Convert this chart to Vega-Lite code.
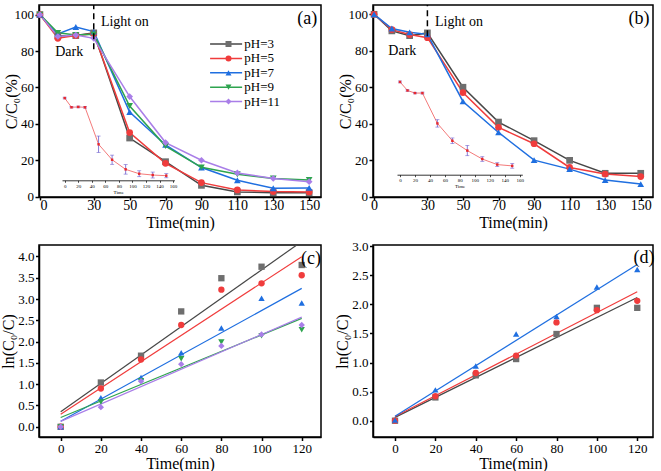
{
  "$schema": "https://vega.github.io/schema/vega-lite/v6.json",
  "padding": {"left": 0, "top": 3, "right": 0, "bottom": 0},
  "config": {
    "font": "Liberation Serif",
    "view": {"stroke": "black", "strokeWidth": 1.5},
    "axis": {"grid": false, "domainColor": "black", "domainWidth": 1.5, "tickColor": "black", "tickWidth": 1.5, "labelColor": "black", "titleColor": "black", "labelFont": "Liberation Serif", "titleFont": "Liberation Serif", "labelFontSize": 14, "titleFontSize": 17, "titleFontWeight": "normal", "labelPadding": 2, "tickSize": 4},
    "legend": {"labelFont": "Liberation Serif", "labelFontSize": 13, "labelColor": "black", "padding": 0}
  },
  "datasets": {
    "a": [
      {"t":0,"v":100,"ph":"pH=3"},{"t":10,"v":88.3,"ph":"pH=3"},{"t":20,"v":88.5,"ph":"pH=3"},{"t":30,"v":90,"ph":"pH=3"},{"t":50,"v":32.2,"ph":"pH=3"},{"t":70,"v":19.2,"ph":"pH=3"},{"t":90,"v":6.2,"ph":"pH=3"},{"t":110,"v":2.6,"ph":"pH=3"},{"t":130,"v":2.2,"ph":"pH=3"},{"t":150,"v":2.2,"ph":"pH=3"},
      {"t":0,"v":100,"ph":"pH=5"},{"t":10,"v":87,"ph":"pH=5"},{"t":20,"v":88.6,"ph":"pH=5"},{"t":30,"v":89.5,"ph":"pH=5"},{"t":50,"v":35.2,"ph":"pH=5"},{"t":70,"v":18.3,"ph":"pH=5"},{"t":90,"v":7.7,"ph":"pH=5"},{"t":110,"v":3.7,"ph":"pH=5"},{"t":130,"v":2.8,"ph":"pH=5"},{"t":150,"v":2.6,"ph":"pH=5"},
      {"t":0,"v":100,"ph":"pH=7"},{"t":10,"v":89.4,"ph":"pH=7"},{"t":20,"v":93.2,"ph":"pH=7"},{"t":30,"v":90.7,"ph":"pH=7"},{"t":50,"v":46.5,"ph":"pH=7"},{"t":70,"v":28.4,"ph":"pH=7"},{"t":90,"v":16,"ph":"pH=7"},{"t":110,"v":9,"ph":"pH=7"},{"t":130,"v":4.6,"ph":"pH=7"},{"t":150,"v":4.8,"ph":"pH=7"},
      {"t":0,"v":100,"ph":"pH=9"},{"t":10,"v":90,"ph":"pH=9"},{"t":20,"v":88.8,"ph":"pH=9"},{"t":30,"v":89.2,"ph":"pH=9"},{"t":50,"v":49.8,"ph":"pH=9"},{"t":70,"v":27.8,"ph":"pH=9"},{"t":90,"v":16.1,"ph":"pH=9"},{"t":110,"v":12.3,"ph":"pH=9"},{"t":130,"v":10,"ph":"pH=9"},{"t":150,"v":9.2,"ph":"pH=9"},
      {"t":0,"v":100,"ph":"pH=11"},{"t":10,"v":88,"ph":"pH=11"},{"t":20,"v":88.8,"ph":"pH=11"},{"t":30,"v":87,"ph":"pH=11"},{"t":50,"v":55,"ph":"pH=11"},{"t":70,"v":29.7,"ph":"pH=11"},{"t":90,"v":20,"ph":"pH=11"},{"t":110,"v":13,"ph":"pH=11"},{"t":130,"v":10,"ph":"pH=11"},{"t":150,"v":8.2,"ph":"pH=11"}
    ],
    "ia": [
      {"t":0,"v":100,"lo":99,"hi":101},{"t":10,"v":88.8,"lo":88,"hi":89.6},{"t":20,"v":89.2,"lo":88.2,"hi":90.2},{"t":30,"v":88.8,"lo":87.8,"hi":89.8},{"t":50,"v":43.8,"lo":33.8,"hi":53.8},{"t":70,"v":25,"lo":19.4,"hi":30.6},{"t":90,"v":13.3,"lo":7.5,"hi":19.1},{"t":110,"v":8,"lo":4.4,"hi":11.6},{"t":130,"v":6.4,"lo":2.8,"hi":10},{"t":150,"v":5.6,"lo":3.1,"hi":8.1}
    ],
    "b": [
      {"t":0,"v":100,"ph":"pH=3"},{"t":10,"v":90.9,"ph":"pH=3"},{"t":20,"v":88.3,"ph":"pH=3"},{"t":30,"v":89.8,"ph":"pH=3"},{"t":50,"v":60,"ph":"pH=3"},{"t":70,"v":40.9,"ph":"pH=3"},{"t":90,"v":30.7,"ph":"pH=3"},{"t":110,"v":19.9,"ph":"pH=3"},{"t":130,"v":12.8,"ph":"pH=3"},{"t":150,"v":12.8,"ph":"pH=3"},
      {"t":0,"v":100,"ph":"pH=5"},{"t":10,"v":91.6,"ph":"pH=5"},{"t":20,"v":88.9,"ph":"pH=5"},{"t":30,"v":87.2,"ph":"pH=5"},{"t":50,"v":57.1,"ph":"pH=5"},{"t":70,"v":38,"ph":"pH=5"},{"t":90,"v":29,"ph":"pH=5"},{"t":110,"v":16,"ph":"pH=5"},{"t":130,"v":12.4,"ph":"pH=5"},{"t":150,"v":11,"ph":"pH=5"},
      {"t":0,"v":100,"ph":"pH=7"},{"t":10,"v":92.2,"ph":"pH=7"},{"t":20,"v":90.1,"ph":"pH=7"},{"t":30,"v":89,"ph":"pH=7"},{"t":50,"v":52.2,"ph":"pH=7"},{"t":70,"v":35.2,"ph":"pH=7"},{"t":90,"v":20,"ph":"pH=7"},{"t":110,"v":15.1,"ph":"pH=7"},{"t":130,"v":9.1,"ph":"pH=7"},{"t":150,"v":6.9,"ph":"pH=7"}
    ],
    "ib": [
      {"t":0,"v":100,"lo":99,"hi":101},{"t":10,"v":90.8,"lo":90,"hi":91.6},{"t":20,"v":88,"lo":87.2,"hi":88.8},{"t":30,"v":88,"lo":87,"hi":89},{"t":50,"v":55.3,"lo":51.3,"hi":59.3},{"t":70,"v":36.6,"lo":33.6,"hi":39.6},{"t":90,"v":26,"lo":20.5,"hi":31.5},{"t":110,"v":16.9,"lo":14.4,"hi":19.4},{"t":130,"v":10.9,"lo":8.9,"hi":12.9},{"t":150,"v":9.5,"lo":7,"hi":12}
    ],
    "c": [
      {"t":0,"v":0,"ph":"pH=3"},{"t":20,"v":1.04,"ph":"pH=3"},{"t":40,"v":1.67,"ph":"pH=3"},{"t":60,"v":2.71,"ph":"pH=3"},{"t":80,"v":3.49,"ph":"pH=3"},{"t":100,"v":3.76,"ph":"pH=3"},{"t":120,"v":3.8,"ph":"pH=3"},
      {"t":0,"v":0,"ph":"pH=5"},{"t":20,"v":0.9,"ph":"pH=5"},{"t":40,"v":1.58,"ph":"pH=5"},{"t":60,"v":2.39,"ph":"pH=5"},{"t":80,"v":3.22,"ph":"pH=5"},{"t":100,"v":3.37,"ph":"pH=5"},{"t":120,"v":3.56,"ph":"pH=5"},
      {"t":0,"v":0,"ph":"pH=7"},{"t":20,"v":0.68,"ph":"pH=7"},{"t":40,"v":1.16,"ph":"pH=7"},{"t":60,"v":1.74,"ph":"pH=7"},{"t":80,"v":2.32,"ph":"pH=7"},{"t":100,"v":3.02,"ph":"pH=7"},{"t":120,"v":2.91,"ph":"pH=7"},
      {"t":0,"v":0,"ph":"pH=9"},{"t":20,"v":0.58,"ph":"pH=9"},{"t":40,"v":1.08,"ph":"pH=9"},{"t":60,"v":1.6,"ph":"pH=9"},{"t":80,"v":1.99,"ph":"pH=9"},{"t":100,"v":2.14,"ph":"pH=9"},{"t":120,"v":2.28,"ph":"pH=9"},
      {"t":0,"v":0,"ph":"pH=11"},{"t":20,"v":0.46,"ph":"pH=11"},{"t":40,"v":1.07,"ph":"pH=11"},{"t":60,"v":1.47,"ph":"pH=11"},{"t":80,"v":1.9,"ph":"pH=11"},{"t":100,"v":2.17,"ph":"pH=11"},{"t":120,"v":2.39,"ph":"pH=11"}
    ],
    "d": [
      {"t":0,"v":0,"ph":"pH=3"},{"t":20,"v":0.4,"ph":"pH=3"},{"t":40,"v":0.78,"ph":"pH=3"},{"t":60,"v":1.06,"ph":"pH=3"},{"t":80,"v":1.49,"ph":"pH=3"},{"t":100,"v":1.94,"ph":"pH=3"},{"t":120,"v":1.94,"ph":"pH=3"},
      {"t":0,"v":0,"ph":"pH=5"},{"t":20,"v":0.42,"ph":"pH=5"},{"t":40,"v":0.82,"ph":"pH=5"},{"t":60,"v":1.12,"ph":"pH=5"},{"t":80,"v":1.69,"ph":"pH=5"},{"t":100,"v":1.9,"ph":"pH=5"},{"t":120,"v":2.06,"ph":"pH=5"},
      {"t":0,"v":0.01,"ph":"pH=7"},{"t":20,"v":0.53,"ph":"pH=7"},{"t":40,"v":0.94,"ph":"pH=7"},{"t":60,"v":1.49,"ph":"pH=7"},{"t":80,"v":1.79,"ph":"pH=7"},{"t":100,"v":2.3,"ph":"pH=7"},{"t":120,"v":2.6,"ph":"pH=7"}
    ]
  },
  "columns": 2,
  "spacing": {"row": 48, "column": 52},
  "bounds": "flush",
  "concat": [
    {
      "width": 282, "height": 192,
      "resolve": {"scale": {"x": "independent", "y": "independent"}},
      "layer": [
        {
          "data": {"name": "a"},
          "encoding": {
            "x": {"field": "t", "type": "quantitative", "scale": {"domain": [-0.5, 156.6], "nice": false, "zero": false}, "axis": {"values": [0,30,50,70,90,110,130,150], "title": "Time(min)", "tickSize": 3, "labelPadding": -2, "titleFontSize": 16, "titlePadding": 2.5}},
            "y": {"field": "v", "type": "quantitative", "scale": {"domain": [-0.2, 105.3], "nice": false, "zero": false}, "axis": {"values": [0,20,40,60,80,100], "title": "C/C₀(%)", "labelFontSize": 13, "labelPadding": 1.5, "titleFontSize": 16, "titlePadding": -5}}
          },
          "layer": [
            {"mark": {"type": "line", "strokeWidth": 1.5},
             "encoding": {"stroke": {"field": "ph", "type": "nominal", "sort": null,
               "scale": {"range": ["#474747","#f03c3c","#1f6fe0","#2ea44f","#a97ee8"]},
               "legend": {"title": null, "orient": "none", "legendX": 180.6, "legendY": 32.5, "symbolType": "M-3,0H3", "symbolSize": 114, "symbolStrokeWidth": 1.5, "labelOffset": 11.7, "rowPadding": 0.4}}}},
            {"mark": {"type": "point", "filled": true, "size": 45, "opacity": 1},
             "encoding": {
               "color": {"field": "ph", "type": "nominal", "scale": {"domain": ["pH=3","pH=5","pH=7","pH=9","pH=11"], "range": ["#6e6e6e","#f03c3c","#1f6fe0","#2ea44f","#a97ee8"]},
                 "legend": {"title": null, "orient": "none", "legendX": 183, "legendY": 32.5, "symbolSize": 36, "labelExpr": "''", "rowPadding": 0.4}},
               "shape": {"field": "ph", "type": "nominal", "scale": {"domain": ["pH=3","pH=5","pH=7","pH=9","pH=11"], "range": ["square","circle","triangle-up","triangle-down","diamond"]},
                 "legend": {"title": null, "orient": "none", "legendX": 183, "legendY": 32.5, "symbolSize": 36, "labelExpr": "''", "rowPadding": 0.4}}}},
            {"data": {"values": [{"t": 30, "v": 81, "v2": 105.3}]}, "mark": {"type": "rule", "strokeDash": [6, 4], "strokeWidth": 1.5, "color": "black"}, "encoding": {"y2": {"field": "v2"}}},
            {"data": {"values": [{"t": 16.3, "v": 79.7, "label": "Dark"}]},
             "mark": {"type": "text", "baseline": "middle", "align": "center", "fontSize": 14, "color": "black"}, "encoding": {"text": {"field": "label"}}},
            {"data": {"values": [{"t": 34, "v": 95.8, "label": "Light on"}]},
             "mark": {"type": "text", "baseline": "middle", "align": "left", "fontSize": 14, "color": "black"}, "encoding": {"text": {"field": "label"}}},
            {"data": {"values": [{"t": 149, "v": 97.4, "label": "(a)"}]},
             "mark": {"type": "text", "baseline": "middle", "align": "center", "fontSize": 18, "color": "black"}, "encoding": {"text": {"field": "label"}}}
          ]
        },
        {
          "data": {"name": "ia"},
          "encoding": {
            "x": {"field": "t", "type": "quantitative", "scale": {"domain": [-4, 162], "range": [23, 135.4], "nice": false, "zero": false},
                  "axis": {"orient": "bottom", "offset": -16.7, "values": [0,20,40,60,80,100,120,140,160], "title": "Time", "titleFontSize": 5, "labelFontSize": 5, "tickSize": 2, "tickWidth": 0.7, "domainWidth": 0.8, "labelPadding": 1, "titlePadding": 1, "labelOverlap": false}},
            "y": {"field": "v", "type": "quantitative", "scale": {"domain": [0, 102.5], "range": [175.3, 91], "nice": false, "zero": false},
                  "axis": {"orient": "left", "offset": -23, "values": [0,10,20,30,40,50,60,70,80,90,100], "title": "Mean value", "titleFontSize": 5, "labelFontSize": 5, "tickSize": 2, "tickWidth": 0.7, "domainWidth": 0.8, "labelPadding": 1, "titlePadding": 1.5, "labelOverlap": false}}
          },
          "layer": [
            {"mark": {"type": "line", "color": "#f26b6b", "strokeWidth": 0.9}},
            {"mark": {"type": "rule", "color": "#6a5acd", "strokeWidth": 0.8},
             "encoding": {"y": {"field": "lo", "type": "quantitative", "scale": {"domain": [0, 102.5], "range": [175.3, 91], "nice": false, "zero": false}, "axis": null}, "y2": {"field": "hi"}}},
            {"mark": {"type": "tick", "orient": "horizontal", "color": "#6a5acd", "size": 4, "thickness": 0.8},
             "encoding": {"y": {"field": "lo", "type": "quantitative", "scale": {"domain": [0, 102.5], "range": [175.3, 91], "nice": false, "zero": false}, "axis": null}}},
            {"mark": {"type": "tick", "orient": "horizontal", "color": "#6a5acd", "size": 4, "thickness": 0.8},
             "encoding": {"y": {"field": "hi", "type": "quantitative", "scale": {"domain": [0, 102.5], "range": [175.3, 91], "nice": false, "zero": false}, "axis": null}}},
            {"mark": {"type": "square", "color": "#e8282d", "size": 6, "opacity": 1}}
          ]
        }
      ]
    },
    {
      "width": 280, "height": 192,
      "resolve": {"scale": {"x": "independent", "y": "independent"}},
      "layer": [
        {
          "data": {"name": "b"},
          "encoding": {
            "x": {"field": "t", "type": "quantitative", "scale": {"domain": [-0.6, 156.9], "nice": false, "zero": false}, "axis": {"values": [0,30,50,70,90,110,130,150], "title": "Time(min)", "tickSize": 3, "labelPadding": -2, "titleFontSize": 16, "titlePadding": 2.5}},
            "y": {"field": "v", "type": "quantitative", "scale": {"domain": [-0.2, 105.1], "nice": false, "zero": false}, "axis": {"values": [0,20,40,60,80,100], "title": "C/C₀(%)", "labelFontSize": 13, "labelPadding": 1.5, "titleFontSize": 16, "titlePadding": -5}}
          },
          "layer": [
            {"mark": {"type": "line", "strokeWidth": 1.5},
             "encoding": {"stroke": {"field": "ph", "type": "nominal", "sort": null,
               "scale": {"range": ["#474747","#f03c3c","#1f6fe0"]},
               "legend": {"title": null, "orient": "none", "legendX": 180.6, "legendY": 5.5, "symbolType": "M-3,0H3", "symbolSize": 114, "symbolStrokeWidth": 1.5, "labelOffset": 11.7, "rowPadding": 1.8}}}},
            {"mark": {"type": "point", "filled": true, "size": 45, "opacity": 1},
             "encoding": {
               "color": {"field": "ph", "type": "nominal", "scale": {"domain": ["pH=3","pH=5","pH=7"], "range": ["#6e6e6e","#f03c3c","#1f6fe0"]},
                 "legend": {"title": null, "orient": "none", "legendX": 183, "legendY": 5.5, "symbolSize": 36, "labelExpr": "''", "rowPadding": 1.8}},
               "shape": {"field": "ph", "type": "nominal", "scale": {"domain": ["pH=3","pH=5","pH=7"], "range": ["square","circle","triangle-up"]},
                 "legend": {"title": null, "orient": "none", "legendX": 183, "legendY": 5.5, "symbolSize": 36, "labelExpr": "''", "rowPadding": 1.8}}}},
            {"data": {"values": [{"t": 30, "v": 88, "v2": 105.1}]}, "mark": {"type": "rule", "strokeDash": [6, 4], "strokeWidth": 1.5, "color": "black"}, "encoding": {"y2": {"field": "v2"}}},
            {"data": {"values": [{"t": 15.9, "v": 79.9, "label": "Dark"}]},
             "mark": {"type": "text", "baseline": "middle", "align": "center", "fontSize": 14, "color": "black"}, "encoding": {"text": {"field": "label"}}},
            {"data": {"values": [{"t": 34.3, "v": 96, "label": "Light on"}]},
             "mark": {"type": "text", "baseline": "middle", "align": "left", "fontSize": 14, "color": "black"}, "encoding": {"text": {"field": "label"}}},
            {"data": {"values": [{"t": 149, "v": 97.4, "label": "(b)"}]},
             "mark": {"type": "text", "baseline": "middle", "align": "center", "fontSize": 18, "color": "black"}, "encoding": {"text": {"field": "label"}}}
          ]
        },
        {
          "data": {"name": "ib"},
          "encoding": {
            "x": {"field": "t", "type": "quantitative", "scale": {"domain": [-4, 163.5], "range": [24, 149.3], "nice": false, "zero": false},
                  "axis": {"orient": "bottom", "offset": -22.3, "values": [0,20,40,60,80,100,120,140,160], "title": "Time", "titleFontSize": 5, "labelFontSize": 5, "tickSize": 2, "tickWidth": 0.7, "domainWidth": 0.8, "labelPadding": 1, "titlePadding": 1, "labelOverlap": false}},
            "y": {"field": "v", "type": "quantitative", "scale": {"domain": [0, 101], "range": [169.7, 76], "nice": false, "zero": false},
                  "axis": {"orient": "left", "offset": -24, "values": [0,10,20,30,40,50,60,70,80,90,100], "title": "Mean value", "titleFontSize": 5, "labelFontSize": 5, "tickSize": 2, "tickWidth": 0.7, "domainWidth": 0.8, "labelPadding": 1, "titlePadding": 1.5, "labelOverlap": false}}
          },
          "layer": [
            {"mark": {"type": "line", "color": "#f26b6b", "strokeWidth": 0.9}},
            {"mark": {"type": "rule", "color": "#6a5acd", "strokeWidth": 0.8},
             "encoding": {"y": {"field": "lo", "type": "quantitative", "scale": {"domain": [0, 101], "range": [169.7, 76], "nice": false, "zero": false}, "axis": null}, "y2": {"field": "hi"}}},
            {"mark": {"type": "tick", "orient": "horizontal", "color": "#6a5acd", "size": 4, "thickness": 0.8},
             "encoding": {"y": {"field": "lo", "type": "quantitative", "scale": {"domain": [0, 101], "range": [169.7, 76], "nice": false, "zero": false}, "axis": null}}},
            {"mark": {"type": "tick", "orient": "horizontal", "color": "#6a5acd", "size": 4, "thickness": 0.8},
             "encoding": {"y": {"field": "hi", "type": "quantitative", "scale": {"domain": [0, 101], "range": [169.7, 76], "nice": false, "zero": false}, "axis": null}}},
            {"mark": {"type": "square", "color": "#e8282d", "size": 6, "opacity": 1}}
          ]
        }
      ]
    },
    {
      "width": 282, "height": 192,
      "data": {"name": "c"},
      "encoding": {
        "x": {"field": "t", "type": "quantitative", "scale": {"domain": [-10.8, 129.6], "nice": false, "zero": false}, "axis": {"values": [0,20,40,60,80,100,120], "title": "Time(min)", "labelFontSize": 13, "tickSize": 3.5, "labelPadding": 1.5, "titleFontSize": 16, "titlePadding": 0}},
        "y": {"field": "v", "type": "quantitative", "scale": {"domain": [-0.24, 4.27], "nice": false, "zero": false}, "axis": {"values": [0,0.5,1,1.5,2,2.5,3,3.5,4], "format": ".1f", "title": "ln(C₀/C)", "labelFontSize": 13, "tickSize": 3.5, "labelPadding": 1.5, "titleFontSize": 16, "titlePadding": 1}}
      },
      "layer": [
        {"transform": [{"regression": "v", "on": "t", "groupby": ["ph"], "extent": [0, 120]}],
         "mark": {"type": "line", "strokeWidth": 1.2, "clip": true},
         "encoding": {"stroke": {"field": "ph", "type": "nominal", "scale": {"domain": ["pH=3","pH=5","pH=7","pH=9","pH=11"], "range": ["#333333","#f03c3c","#1f6fe0","#2ea44f","#a97ee8"]}, "legend": null}}},
        {"mark": {"type": "point", "filled": true, "size": 40, "opacity": 1},
         "encoding": {
           "color": {"field": "ph", "type": "nominal", "scale": {"domain": ["pH=3","pH=5","pH=7","pH=9","pH=11"], "range": ["#6e6e6e","#f03c3c","#1f6fe0","#2ea44f","#a97ee8"]},
             "legend": {"title": null, "orient": "none", "legendX": 20.5, "legendY": 7.5, "symbolSize": 40, "labelOffset": 14.5, "rowPadding": 1.1}},
           "shape": {"field": "ph", "type": "nominal", "scale": {"domain": ["pH=3","pH=5","pH=7","pH=9","pH=11"], "range": ["square","circle","triangle-up","triangle-down","diamond"]},
             "legend": {"title": null, "orient": "none", "legendX": 20.5, "legendY": 7.5, "symbolSize": 40, "labelOffset": 14.5, "rowPadding": 1.1}}}},
        {"data": {"values": [{"t": 124.6, "v": 3.95, "label": "(c)"}]}, "mark": {"type": "text", "fontSize": 18, "align": "center", "baseline": "middle", "color": "black"}, "encoding": {"text": {"field": "label"}}}
      ]
    },
    {
      "width": 280, "height": 192,
      "data": {"name": "d"},
      "encoding": {
        "x": {"field": "t", "type": "quantitative", "scale": {"domain": [-10.9, 127.8], "nice": false, "zero": false}, "axis": {"values": [0,20,40,60,80,100,120], "title": "Time(min)", "labelFontSize": 13, "tickSize": 3.5, "labelPadding": 1.5, "titleFontSize": 16, "titlePadding": 0}},
        "y": {"field": "v", "type": "quantitative", "scale": {"domain": [-0.28, 3.02], "nice": false, "zero": false}, "axis": {"values": [0,0.5,1,1.5,2,2.5,3], "format": ".1f", "title": "ln(C₀/C)", "labelFontSize": 13, "tickSize": 3.5, "labelPadding": 1.5, "titleFontSize": 16, "titlePadding": 1}}
      },
      "layer": [
        {"transform": [{"regression": "v", "on": "t", "groupby": ["ph"], "extent": [0, 120]}],
         "mark": {"type": "line", "strokeWidth": 1.2, "clip": true},
         "encoding": {"stroke": {"field": "ph", "type": "nominal", "scale": {"domain": ["pH=3","pH=5","pH=7"], "range": ["#333333","#f03c3c","#1f6fe0"]}, "legend": null}}},
        {"mark": {"type": "point", "filled": true, "size": 40, "opacity": 1},
         "encoding": {
           "color": {"field": "ph", "type": "nominal", "scale": {"domain": ["pH=3","pH=5","pH=7"], "range": ["#6e6e6e","#f03c3c","#1f6fe0"]},
             "legend": {"title": null, "orient": "none", "legendX": 22.5, "legendY": 7.5, "symbolSize": 40, "labelOffset": 15.9, "rowPadding": 0.3}},
           "shape": {"field": "ph", "type": "nominal", "scale": {"domain": ["pH=3","pH=5","pH=7"], "range": ["square","circle","triangle-up"]},
             "legend": {"title": null, "orient": "none", "legendX": 22.5, "legendY": 7.5, "symbolSize": 40, "labelOffset": 15.9, "rowPadding": 0.3}}}},
        {"data": {"values": [{"t": 123.3, "v": 2.8, "label": "(d)"}]}, "mark": {"type": "text", "fontSize": 18, "align": "center", "baseline": "middle", "color": "black"}, "encoding": {"text": {"field": "label"}}}
      ]
    }
  ]
}
